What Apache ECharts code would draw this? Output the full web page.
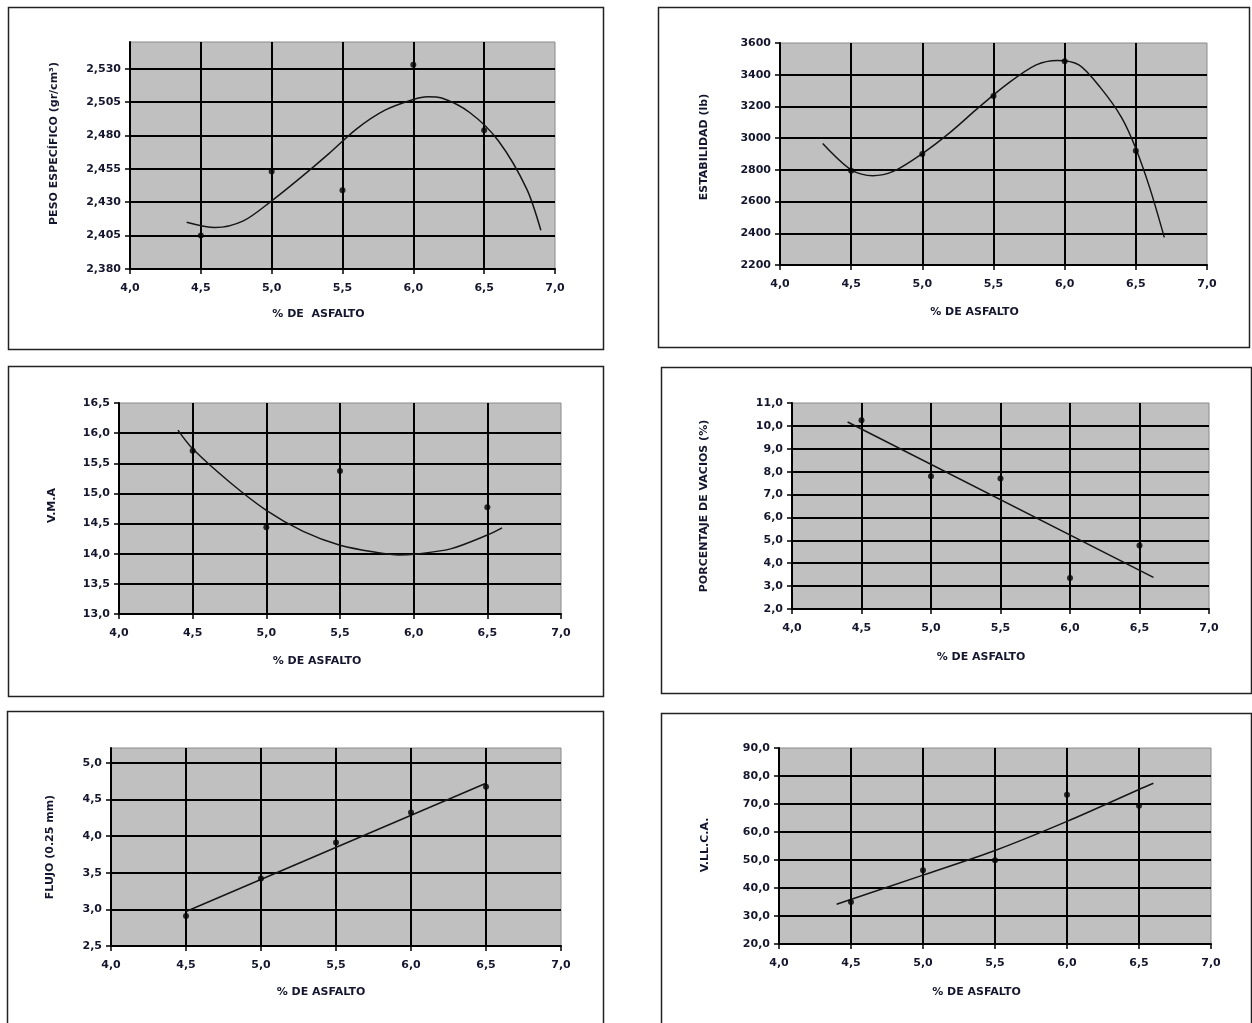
<!DOCTYPE html>
<html>
<head>
<meta charset="utf-8">
<script src="https://cdn.jsdelivr.net/npm/echarts@6/dist/echarts.min.js"></script>
<style>
html,body{margin:0;padding:0;background:#fff;}
#c{width:1252px;height:1023px;}
</style>
</head>
<body>
<div id="c"></div>
<script>
// ---- data ----
const asfalto = [4.5, 5.0, 5.5, 6.0, 6.5];

const pesoEsp = [2.405, 2.453, 2.439, 2.533, 2.484];
const pesoTrendX = [4.4, 4.6, 4.8, 5.0, 5.2, 5.4, 5.6, 5.8, 6.0, 6.1, 6.2, 6.4, 6.6, 6.8, 6.9];
const pesoTrendY = [2.415, 2.411, 2.416, 2.431, 2.448, 2.466, 2.485, 2.499, 2.507, 2.509, 2.508, 2.497, 2.476, 2.440, 2.409];

const estab = [2795, 2900, 3265, 3485, 2920];
const estabTrendX = [4.3, 4.5, 4.65, 4.8, 5.0, 5.2, 5.4, 5.6, 5.8, 5.95, 6.1, 6.25, 6.4, 6.5, 6.6, 6.7];
const estabTrendY = [2966, 2800, 2763, 2792, 2903, 3040, 3197, 3344, 3462, 3490, 3462, 3320, 3130, 2935, 2680, 2374];

const vmaX = [4.5, 5.0, 5.5, 6.5];
const vmaY = [15.71, 14.44, 15.37, 14.77];
const vmaTrendX = [4.4, 4.5, 4.75, 5.0, 5.25, 5.5, 5.75, 5.9, 6.0, 6.25, 6.5, 6.6];
const vmaTrendY = [16.05, 15.74, 15.19, 14.72, 14.37, 14.14, 14.02, 13.98, 13.99, 14.08, 14.31, 14.43];

const vacios = [10.25, 7.80, 7.70, 3.35, 4.77];
const vaciosTrendX = [4.4, 6.6];
const vaciosTrendY = [10.17, 3.38];

const flujo = [2.91, 3.42, 3.91, 4.32, 4.67];
const flujoTrendX = [4.5, 6.5];
const flujoTrendY = [2.97, 4.72];

const vllca = [35.0, 46.3, 49.9, 73.3, 69.4];
const vllcaTrendX = [4.4, 5.0, 5.5, 6.0, 6.5, 6.6];
const vllcaTrendY = [34.2, 44.6, 53.4, 63.8, 75.2, 77.4];

const xTitle1 = '% DE  ASFALTO';
const xTitle = '% DE ASFALTO';
const yTitles = ['PESO ESPECÍFICO (gr/cm³)', 'ESTABILIDAD (lb)', 'V.M.A', 'PORCENTAJE DE VACIOS (%)', 'FLUJO (0.25 mm)', 'V.LL.C.A.'];

// ---- layout ----
const TXT = '#14162e';
const FONT = 'DejaVu Sans';
const grids = [
  {left: 130, top: 42, width: 425, height: 227},
  {left: 780, top: 43, width: 427, height: 222},
  {left: 119, top: 403, width: 442, height: 211},
  {left: 792, top: 403, width: 417, height: 206},
  {left: 111, top: 748, width: 450, height: 198},
  {left: 779, top: 748, width: 432, height: 196}
];
const yCfg = [
  {min: 2.38, max: 2.55, interval: 0.025, dec: 3, gap: 70, pad: 24, showMax: false},
  {min: 2200, max: 3600, interval: 200, dec: 0, gap: 70, pad: 14, showMax: true},
  {min: 13.0, max: 16.5, interval: 0.5, dec: 1, gap: 61, pad: 6, showMax: true},
  {min: 2.0, max: 11.0, interval: 1.0, dec: 1, gap: 82, pad: 0, showMax: true},
  {min: 2.5, max: 5.2, interval: 0.5, dec: 1, gap: 55, pad: 0, showMax: false},
  {min: 20, max: 90, interval: 10, dec: 1, gap: 68, pad: 2, showMax: true}
];
const xGaps = [40, 42, 42, 43, 41, 43];
const xShift = [48, 38, 46, 39, 30, 37];

function fmt(v, d) { return v.toFixed(d).replace('.', ','); }

const xAxes = grids.map((g, i) => ({
  type: 'value', gridIndex: i, min: 4, max: 7, interval: 0.5,
  name: i === 0 ? xTitle1 : xTitle, nameLocation: 'middle', nameGap: xGaps[i],
  nameTextStyle: {fontFamily: FONT, fontWeight: 'bold', fontSize: 11, color: TXT, padding: [0, xShift[i], 0, 0]},
  axisLine: {show: true, onZero: false, lineStyle: {color: '#000', width: 2}},
  axisTick: {show: true, length: 5, lineStyle: {color: '#000', width: 1.5}},
  axisLabel: {margin: 14, fontFamily: FONT, fontWeight: 'bold', fontSize: 11, color: TXT, formatter: v => fmt(v, 1)},
  splitLine: {show: true, showMinLine: false, showMaxLine: false, lineStyle: {color: '#000', width: 2}}
}));
const yAxes = grids.map((g, i) => {
  const c = yCfg[i];
  return {
    type: 'value', gridIndex: i, min: c.min, max: c.max, interval: c.interval,
    name: yTitles[i], nameLocation: 'middle', nameGap: c.gap,
    nameTextStyle: {fontFamily: FONT, fontWeight: 'bold', fontSize: 11, color: TXT, padding: [0, 0, 0, c.pad]},
    axisLine: {show: true, onZero: false, lineStyle: {color: '#000', width: 2}},
    axisTick: {show: true, length: 5, lineStyle: {color: '#000', width: 1.5}},
    axisLabel: {margin: 9, showMaxLabel: c.showMax, fontFamily: FONT, fontWeight: 'bold', fontSize: 11, color: TXT, formatter: v => fmt(v, c.dec)},
    splitLine: {show: true, showMinLine: false, showMaxLine: false, lineStyle: {color: '#000', width: 2}}
  };
});

function zip(xs, ys) { return xs.map((x, k) => [x, ys[k]]); }
const pts = [
  zip(asfalto, pesoEsp), zip(asfalto, estab), zip(vmaX, vmaY),
  zip(asfalto, vacios), zip(asfalto, flujo), zip(asfalto, vllca)
];
const trends = [
  zip(pesoTrendX, pesoTrendY), zip(estabTrendX, estabTrendY), zip(vmaTrendX, vmaTrendY),
  zip(vaciosTrendX, vaciosTrendY), zip(flujoTrendX, flujoTrendY), zip(vllcaTrendX, vllcaTrendY)
];
const series = [];
for (let i = 0; i < 6; i++) {
  series.push({
    type: 'line', xAxisIndex: i, yAxisIndex: i, data: trends[i], smooth: 0.3,
    showSymbol: false, silent: true, z: 3,
    lineStyle: {color: '#161616', width: 1.5}
  });
  series.push({
    type: 'scatter', xAxisIndex: i, yAxisIndex: i, data: pts[i],
    symbol: 'circle', symbolSize: 6, z: 4,
    itemStyle: {color: '#000'}
  });
}

const boxes = [
  [8, 7, 595, 342], [658, 7, 591, 340],
  [8, 366, 595, 330], [661, 367, 590, 326],
  [7, 711, 596, 330], [661, 713, 590, 330]
];
const graphic = boxes.map(b => ({
  type: 'rect', shape: {x: b[0] + 0.5, y: b[1] + 0.5, width: b[2], height: b[3]},
  style: {fill: 'none', stroke: '#222', lineWidth: 1.5}, silent: true, z: -1
}));

const chart = echarts.init(document.getElementById('c'), null, {renderer: 'canvas'});
chart.setOption({
  animation: false,
  backgroundColor: '#fff',
  graphic: graphic,
  grid: grids.map(g => Object.assign({show: true, backgroundColor: '#c0c0c0', borderColor: '#8a8a8a', borderWidth: 1}, g)),
  xAxis: xAxes,
  yAxis: yAxes,
  series: series
});
</script>
</body>
</html>
